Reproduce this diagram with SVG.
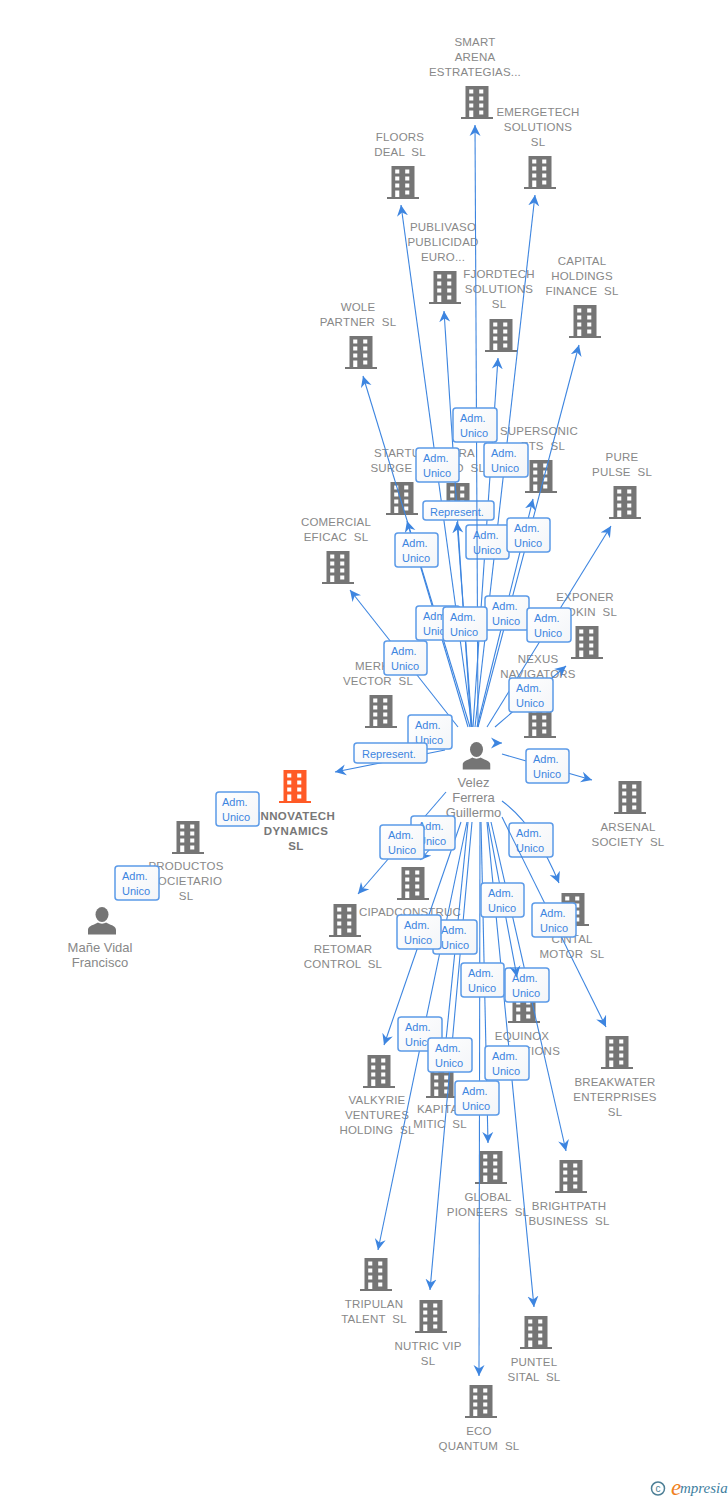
<svg xmlns="http://www.w3.org/2000/svg" width="728" height="1500" viewBox="0 0 728 1500">
<style>
text{font-family:"Liberation Sans",Arial,sans-serif;white-space:pre}
.n{font-size:11.5px;fill:#888;text-anchor:middle;letter-spacing:.2px}
.f{font-size:11.5px;fill:#888;letter-spacing:.2px}
.e{text-anchor:end}
.h{font-weight:bold;fill:#777;letter-spacing:.4px}
.p{font-size:13px;fill:#888;text-anchor:middle}
.b{fill:#757575}
.o{fill:#ff5a26}
.c path,.c line{fill:none;stroke:#3d85e0;stroke-width:1.1;marker-end:url(#a)}
.l rect{fill:url(#g);stroke:#5b9ae8;stroke-width:1.5}
.l text{font-size:11px;fill:#3d85e0;transform:translate(0,1px)}
</style>
<defs>
<linearGradient id="g" x1="0" y1="0" x2="1" y2="1"><stop offset="0" stop-color="#fff"/><stop offset="1" stop-color="#f3f5f8"/></linearGradient>
<marker id="a" markerUnits="userSpaceOnUse" markerWidth="12" markerHeight="12" refX="11" refY="6" orient="auto"><path d="M11,6 L0,0.500 L3.500,6 L0,11.500 Z" fill="#3d85e0" stroke="none"/></marker>
<symbol id="bd" width="32" height="33" viewBox="0 0 32 33"><path fill-rule="evenodd" d="M4.500,0H27.500V31H32V33H0V31H4.500ZM8.200,3.500V7.500H12.300V3.500ZM18.200,3.500V7.500H22.300V3.500ZM8.200,10.500V14.500H12.300V10.500ZM18.200,10.500V14.500H22.300V10.500ZM8.200,17.500V21.500H12.300V17.500ZM18.200,17.500V21.500H22.300V17.500ZM8.200,24.500V31H12.300V24.500ZM18.200,24.500V28.500H22.300V24.500Z"/></symbol>
<symbol id="pr" width="28" height="28" viewBox="0 0 28 28"><ellipse cx="14" cy="7.500" rx="6.500" ry="7.500"/><path d="M0,27.500V23C0,20 3,18.500 6,17.500L10,15.500C12,17 16,17 18,15.500L22,17.500C25,18.500 28,20 28,23V27.500Z"/></symbol>
</defs>
<rect width="728" height="1500" fill="#fff"/>
<g id="n1"><use href="#bd" class="b" x="461" y="86"/><text class="n" x="475" y="46">SMART</text><text class="n" x="475" y="61">ARENA</text><text class="n" x="475" y="76">ESTRATEGIAS...</text></g>
<g id="n2"><use href="#bd" class="b" x="524" y="156"/><text class="n" x="538" y="116">EMERGETECH</text><text class="n" x="538" y="131">SOLUTIONS</text><text class="n" x="538" y="146">SL</text></g>
<g id="n3"><use href="#bd" class="b" x="387" y="166"/><text class="n" x="400" y="141">FLOORS</text><text class="n" x="400" y="156">DEAL  SL</text></g>
<g id="n4"><use href="#bd" class="b" x="429" y="271"/><text class="n" x="443" y="231">PUBLIVASO</text><text class="n" x="443" y="246">PUBLICIDAD</text><text class="n" x="443" y="261">EURO...</text></g>
<g id="n5"><use href="#bd" class="b" x="485" y="319"/><text class="n" x="499" y="278">FJORDTECH</text><text class="n" x="499" y="293">SOLUTIONS</text><text class="n" x="499" y="308">SL</text></g>
<g id="n6"><use href="#bd" class="b" x="569" y="305"/><text class="n" x="582" y="265">CAPITAL</text><text class="n" x="582" y="280">HOLDINGS</text><text class="n" x="582" y="295">FINANCE  SL</text></g>
<g id="n7"><use href="#bd" class="b" x="345" y="336"/><text class="n" x="358" y="311">WOLE</text><text class="n" x="358" y="326">PARTNER  SL</text></g>
<g id="n8"><use href="#bd" class="b" x="386" y="482"/><text class="f" x="374" y="457">STARTUP</text><text class="n" x="402" y="472">SURGE  SL</text></g>
<g id="n9"><use href="#bd" class="b" x="442" y="483"/><text class="f e" x="475" y="457">RA</text><text class="f e" x="485" y="472">D  SL</text></g>
<g id="n10"><use href="#bd" class="b" x="525" y="460"/><text class="n" x="539" y="435">SUPERSONIC</text><text class="f e" x="565" y="450">ETS  SL</text></g>
<g id="n11"><use href="#bd" class="b" x="609" y="486"/><text class="n" x="622" y="461">PURE</text><text class="n" x="622" y="476">PULSE  SL</text></g>
<g id="n12"><use href="#bd" class="b" x="322" y="551"/><text class="n" x="336" y="526">COMERCIAL</text><text class="n" x="336" y="541">EFICAC  SL</text></g>
<g id="n13"><use href="#bd" class="b" x="571" y="626"/><text class="n" x="585" y="601">EXPONER</text><text class="f e" x="617" y="616">OKIN  SL</text></g>
<g id="n14"><use href="#bd" class="b" x="365" y="695"/><text class="f" x="355" y="670">MERK</text><text class="n" x="378" y="685">VECTOR  SL</text></g>
<g id="n15"><use href="#bd" class="b" x="524" y="705"/><text class="n" x="538" y="663">NEXUS</text><text class="n" x="538" y="678">NAVIGATORS</text></g>
<g id="n16"><use href="#bd" class="b" x="614" y="781"/><text class="n" x="628" y="831">ARSENAL</text><text class="n" x="628" y="846">SOCIETY  SL</text></g>
<g id="n17"><use href="#bd" class="o" x="279" y="770"/><text class="n h" x="296" y="820">INNOVATECH</text><text class="n h" x="296" y="835">DYNAMICS</text><text class="n h" x="296" y="850">SL</text></g>
<g id="n18"><use href="#bd" class="b" x="172" y="821"/><text class="n" x="186" y="870">PRODUCTOS</text><text class="n" x="186" y="885">SOCIETARIO</text><text class="n" x="186" y="900">SL</text></g>
<g id="n19"><use href="#pr" class="b" x="88" y="907"/><text class="p" x="100" y="952">Mañe Vidal</text><text class="p" x="100" y="967">Francisco</text></g>
<g id="n20"><use href="#pr" class="b" x="462.500" y="742"/><text class="p" x="473.500" y="787">Velez</text><text class="p" x="473.500" y="802">Ferrera</text><text class="p" x="473.500" y="817">Guillermo</text></g>
<g id="n21"><use href="#bd" class="b" x="397" y="867"/><text class="n" x="410" y="916">CIPADCONSTRUC</text></g>
<g id="n22"><use href="#bd" class="b" x="329" y="904"/><text class="n" x="343" y="953">RETOMAR</text><text class="n" x="343" y="968">CONTROL  SL</text></g>
<g id="n23"><use href="#bd" class="b" x="557" y="893"/><text class="n" x="572" y="943">CINTAL</text><text class="n" x="572" y="958">MOTOR  SL</text></g>
<g id="n24"><use href="#bd" class="b" x="508" y="990"/><text class="n" x="522" y="1040">EQUINOX</text><text class="f e" x="560" y="1055">TIONS</text></g>
<g id="n25"><use href="#bd" class="b" x="601" y="1036"/><text class="n" x="615" y="1086">BREAKWATER</text><text class="n" x="615" y="1101">ENTERPRISES</text><text class="n" x="615" y="1116">SL</text></g>
<g id="n26"><use href="#bd" class="b" x="363" y="1055"/><text class="n" x="377" y="1104">VALKYRIE</text><text class="n" x="377" y="1119">VENTURES</text><text class="n" x="377" y="1134">HOLDING  SL</text></g>
<g id="n27"><use href="#bd" class="b" x="426" y="1065"/><text class="f" x="417" y="1113">KAPITA</text><text class="n" x="440" y="1128">MITIC  SL</text></g>
<g id="n28"><use href="#bd" class="b" x="475" y="1151"/><text class="n" x="488" y="1201">GLOBAL</text><text class="n" x="488" y="1216">PIONEERS  SL</text></g>
<g id="n29"><use href="#bd" class="b" x="555" y="1160"/><text class="n" x="569" y="1210">BRIGHTPATH</text><text class="n" x="569" y="1225">BUSINESS  SL</text></g>
<g id="n30"><use href="#bd" class="b" x="360" y="1258"/><text class="n" x="374" y="1308">TRIPULAN</text><text class="n" x="374" y="1323">TALENT  SL</text></g>
<g id="n31"><use href="#bd" class="b" x="415" y="1300"/><text class="n" x="428" y="1350">NUTRIC VIP</text><text class="n" x="428" y="1365">SL</text></g>
<g id="n32"><use href="#bd" class="b" x="520" y="1316"/><text class="n" x="534" y="1366">PUNTEL</text><text class="n" x="534" y="1381">SITAL  SL</text></g>
<g id="n33"><use href="#bd" class="b" x="465" y="1385"/><text class="n" x="479" y="1435">ECO</text><text class="n" x="479" y="1450">QUANTUM  SL</text></g>
<g id="connectors">
<g class="c">
<line x1="470" y1="727" x2="363" y2="376"/>
<line x1="472" y1="727" x2="401" y2="205"/>
<line x1="471" y1="727" x2="444" y2="311"/>
<line x1="473" y1="727" x2="498" y2="358"/>
<line x1="475" y1="727" x2="535" y2="195"/>
<line x1="478" y1="727" x2="579" y2="345"/>
<line x1="468" y1="727" x2="407" y2="521"/>
<line x1="472" y1="727" x2="457" y2="522"/>
<line x1="477" y1="727" x2="533" y2="499"/>
<line x1="487" y1="727" x2="611" y2="526"/>
<line x1="458" y1="727" x2="350" y2="590"/>
<line x1="495" y1="727" x2="566" y2="666"/>
<line x1="500" y1="743" x2="502" y2="743"/>
<line x1="502" y1="754" x2="592" y2="780"/>
<line x1="445" y1="750" x2="335" y2="772"/>
<line x1="446" y1="792" x2="358" y2="894"/>
<line x1="455" y1="822" x2="420" y2="860"/>
<line x1="461" y1="822" x2="384" y2="1045"/>
<line x1="467" y1="822" x2="378" y2="1250"/>
<line x1="468" y1="822" x2="444" y2="1060"/>
<line x1="472" y1="822" x2="430" y2="1290"/>
<line x1="480" y1="822" x2="479" y2="1376"/>
<line x1="481" y1="822" x2="488" y2="1143"/>
<line x1="487" y1="822" x2="534" y2="1307"/>
<line x1="491" y1="822" x2="566" y2="1151"/>
<path d="M502,801Q535,825 559,883"/>
</g>
<g class="l"><rect x="423" y="501" width="71" height="19" rx="3"/><text x="430" y="514.500">Represent.</text></g>
<g class="l"><rect x="466" y="525" width="43" height="34" rx="3"/><text x="473" y="538">Adm.</text><text x="473" y="553">Unico</text></g>
<g class="c"><line x1="478" y1="727" x2="475" y2="125"/></g>
<g class="l"><rect x="453" y="408" width="44" height="34" rx="3"/><text x="460" y="421">Adm.</text><text x="460" y="436">Unico</text></g>
<g class="l"><rect x="416" y="448" width="43" height="34" rx="3"/><text x="423" y="461">Adm.</text><text x="423" y="476">Unico</text></g>
<g class="l"><rect x="484" y="443" width="44" height="34" rx="3"/><text x="491" y="456">Adm.</text><text x="491" y="471">Unico</text></g>
<g class="l"><rect x="395" y="533" width="43" height="34" rx="3"/><text x="402" y="546">Adm.</text><text x="402" y="561">Unico</text></g>
<g class="l"><rect x="507" y="518" width="43" height="34" rx="3"/><text x="514" y="531">Adm.</text><text x="514" y="546">Unico</text></g>
<g class="l"><rect x="485" y="596" width="44" height="34" rx="3"/><text x="492" y="609">Adm.</text><text x="492" y="624">Unico</text></g>
<g class="l"><rect x="416" y="606" width="44" height="34" rx="3"/><text x="423" y="619">Adm.</text><text x="423" y="634">Unico</text></g>
<g class="l"><rect x="443" y="607" width="44" height="34" rx="3"/><text x="450" y="620">Adm.</text><text x="450" y="635">Unico</text></g>
<g class="l"><rect x="527" y="608" width="44" height="34" rx="3"/><text x="534" y="621">Adm.</text><text x="534" y="636">Unico</text></g>
<g class="l"><rect x="384" y="641" width="43" height="34" rx="3"/><text x="391" y="654">Adm.</text><text x="391" y="669">Unico</text></g>
<g class="l"><rect x="509" y="678" width="44" height="34" rx="3"/><text x="516" y="691">Adm.</text><text x="516" y="706">Unico</text></g>
<g class="l"><rect x="408" y="715" width="44" height="34" rx="3"/><text x="415" y="728">Adm.</text><text x="415" y="743">Unico</text></g>
<g class="l"><rect x="354" y="743" width="73" height="20" rx="3"/><text x="362" y="757">Represent.</text></g>
<g class="l"><rect x="526" y="749" width="43" height="34" rx="3"/><text x="533" y="762">Adm.</text><text x="533" y="777">Unico</text></g>
<g class="l"><rect x="411" y="816" width="44" height="34" rx="3"/><text x="418" y="829">Adm.</text><text x="418" y="844">Unico</text></g>
<g class="l"><rect x="380" y="825" width="44" height="34" rx="3"/><text x="388" y="838">Adm.</text><text x="388" y="853">Unico</text></g>
<g class="l"><rect x="509" y="823" width="44" height="34" rx="3"/><text x="516" y="836">Adm.</text><text x="516" y="851">Unico</text></g>
<g class="l"><rect x="505" y="968" width="44" height="34" rx="3"/><text x="512" y="981">Adm.</text><text x="512" y="996">Unico</text></g>
<g class="c"><line x1="488" y1="822" x2="517" y2="977"/><line x1="502" y1="817" x2="606" y2="1027"/></g>
<g class="l"><rect x="481" y="883" width="43" height="34" rx="3"/><text x="488" y="896">Adm.</text><text x="488" y="911">Unico</text></g>
<g class="l"><rect x="532" y="903" width="44" height="34" rx="3"/><text x="540" y="916">Adm.</text><text x="540" y="931">Unico</text></g>
<g class="l"><rect x="433" y="920" width="44" height="34" rx="3"/><text x="441" y="933">Adm.</text><text x="441" y="948">Unico</text></g>
<g class="l"><rect x="397" y="915" width="44" height="34" rx="3"/><text x="404" y="928">Adm.</text><text x="404" y="943">Unico</text></g>
<g class="l"><rect x="461" y="963" width="43" height="34" rx="3"/><text x="468" y="976">Adm.</text><text x="468" y="991">Unico</text></g>
<g class="l"><rect x="398" y="1017" width="44" height="34" rx="3"/><text x="405" y="1030">Adm.</text><text x="405" y="1045">Unico</text></g>
<g class="l"><rect x="428" y="1038" width="44" height="34" rx="3"/><text x="435" y="1051">Adm.</text><text x="435" y="1066">Unico</text></g>
<g class="l"><rect x="485" y="1046" width="44" height="34" rx="3"/><text x="492" y="1059">Adm.</text><text x="492" y="1074">Unico</text></g>
<g class="l"><rect x="455" y="1081" width="44" height="34" rx="3"/><text x="462" y="1094">Adm.</text><text x="462" y="1109">Unico</text></g>
<g class="l"><rect x="216" y="792" width="43" height="34" rx="3"/><text x="222" y="805">Adm.</text><text x="222" y="820">Unico</text></g>
<g class="l"><rect x="115" y="866" width="44" height="34" rx="3"/><text x="122" y="879">Adm.</text><text x="122" y="894">Unico</text></g>
</g>
<g id="logo">
<circle cx="658" cy="1488.500" r="6.500" fill="none" stroke="#4d7f96" stroke-width="1.500"/>
<text x="658" y="1492" style="font-size:10px;fill:#4d7f96;text-anchor:middle">c</text>
<text x="671" y="1495" style="font-family:'Liberation Serif',serif;font-style:italic;font-size:23px;fill:#f08020">e</text>
<text x="680" y="1493" style="font-family:'Liberation Serif',serif;font-style:italic;font-size:15px;fill:#3f7f9f">mpresia</text>
</g>
</svg>
